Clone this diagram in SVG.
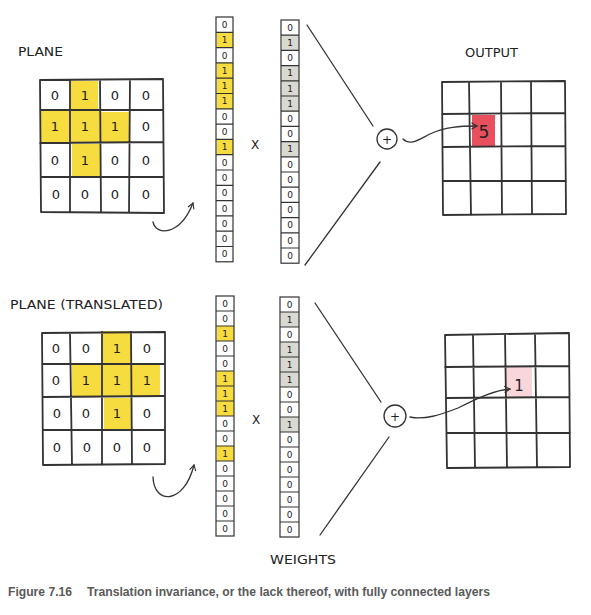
<svg xmlns="http://www.w3.org/2000/svg" width="591" height="615" viewBox="0 0 591 615">
<defs>
<style>
.bg{fill:#ffffff}
.g{stroke:#333;stroke-width:1.8;fill:none;stroke-linecap:round}
.c{stroke:#333;stroke-width:1.2;fill:none}
.ln{stroke:#333;stroke-width:1.3;fill:none;stroke-linecap:round}
.y{fill:#f7dc3f}
.gr{fill:#d9d9d2}
.d{font-family:"DejaVu Sans",sans-serif;font-size:13px;fill:#222;text-anchor:middle}
.s{font-family:"DejaVu Sans",sans-serif;font-size:9px;fill:#222;text-anchor:middle}
.lb{font-family:"DejaVu Sans",sans-serif;font-size:12px;fill:#222}
.cap{font-family:"Liberation Sans",Arial,sans-serif;font-size:12px;font-weight:bold;fill:#5a5a5a}
</style>
<marker id="ah" viewBox="0 0 10 10" refX="8" refY="5" markerWidth="8" markerHeight="8" orient="auto" markerUnits="userSpaceOnUse">
<path d="M1,1 L8,5 L1,9" fill="none" stroke="#333" stroke-width="1.4"/>
</marker>
</defs>
<rect class="bg" width="591" height="615"/>

<!-- TOP ROW -->
<g id="plane-top">
<text class="lb" x="18" y="56" textLength="45" lengthAdjust="spacingAndGlyphs">PLANE</text>
<rect class="y" x="70" y="81" width="28" height="29"/>
<rect class="y" x="41" y="111" width="29" height="32"/>
<rect class="y" x="71" y="111" width="29" height="32"/>
<rect class="y" x="100" y="112" width="30" height="30"/>
<rect class="y" x="72" y="144" width="28" height="34"/>
<path class="g" d="M40,80 L163,79 M40,110 L163,110 M40,143 L163,142 M41,177 L163,177 M41,212 L164,213 M40,80 L41,212 M70,80 L70,212 M100,80 L101,212 M130,80 L129,212 M163,79 L164,213"/>
<text class="d" x="55" y="100">0</text><text class="d" x="85" y="100">1</text><text class="d" x="115" y="100">0</text><text class="d" x="146" y="100">0</text>
<text class="d" x="55" y="131">1</text><text class="d" x="85" y="131">1</text><text class="d" x="115" y="131">1</text><text class="d" x="146" y="131">0</text>
<text class="d" x="55" y="165">0</text><text class="d" x="85" y="165">1</text><text class="d" x="115" y="165">0</text><text class="d" x="146" y="165">0</text>
<text class="d" x="56" y="199">0</text><text class="d" x="85" y="199">0</text><text class="d" x="115" y="199">0</text><text class="d" x="146" y="199">0</text>
</g>

<g id="input-top" transform="translate(216,17)">
<rect class="y" x="1" y="15.3" width="16" height="15.3"/>
<rect class="y" x="1" y="45.9" width="16" height="45.9"/>
<rect class="y" x="1" y="122.4" width="16" height="15.3"/>
<rect class="c" x="0" y="0" width="17" height="244.8"/>
<path class="c" d="M0,15.3H17M0,30.6H17M0,45.9H17M0,61.2H17M0,76.5H17M0,91.8H17M0,107.1H17M0,122.4H17M0,137.7H17M0,153H17M0,168.3H17M0,183.6H17M0,198.9H17M0,214.2H17M0,229.5H17"/>
<text class="s" x="8.5" y="10.9">0</text><text class="s" x="8.5" y="26.2">1</text><text class="s" x="8.5" y="41.5">0</text><text class="s" x="8.5" y="56.8">1</text>
<text class="s" x="8.5" y="72.1">1</text><text class="s" x="8.5" y="87.4">1</text><text class="s" x="8.5" y="102.7">0</text><text class="s" x="8.5" y="118">0</text>
<text class="s" x="8.5" y="133.3">1</text><text class="s" x="8.5" y="148.6">0</text><text class="s" x="8.5" y="163.9">0</text><text class="s" x="8.5" y="179.2">0</text>
<text class="s" x="8.5" y="194.5">0</text><text class="s" x="8.5" y="209.8">0</text><text class="s" x="8.5" y="225.1">0</text><text class="s" x="8.5" y="240.4">0</text>
</g>

<text class="lb" x="255" y="149" text-anchor="middle">X</text>

<g id="weights-top" transform="translate(281,20)">
<rect class="gr" x="1" y="15.2" width="17" height="15.2"/>
<rect class="gr" x="1" y="45.6" width="17" height="45.6"/>
<rect class="gr" x="1" y="121.6" width="17" height="15.2"/>
<rect class="c" x="0" y="0" width="18" height="243.2"/>
<path class="c" d="M0,15.2H18M0,30.4H18M0,45.6H18M0,60.8H18M0,76H18M0,91.2H18M0,106.4H18M0,121.6H18M0,136.8H18M0,152H18M0,167.2H18M0,182.4H18M0,197.6H18M0,212.8H18M0,228H18"/>
<text class="s" x="9" y="10.8">0</text><text class="s" x="9" y="26">1</text><text class="s" x="9" y="41.2">0</text><text class="s" x="9" y="56.4">1</text>
<text class="s" x="9" y="71.6">1</text><text class="s" x="9" y="86.8">1</text><text class="s" x="9" y="102">0</text><text class="s" x="9" y="117.2">0</text>
<text class="s" x="9" y="132.4">1</text><text class="s" x="9" y="147.6">0</text><text class="s" x="9" y="162.8">0</text><text class="s" x="9" y="178">0</text>
<text class="s" x="9" y="193.2">0</text><text class="s" x="9" y="208.4">0</text><text class="s" x="9" y="223.6">0</text><text class="s" x="9" y="238.8">0</text>
</g>

<g id="sum-top">
<circle class="ln" cx="387" cy="139" r="10"/>
<text class="lb" x="387" y="143.5" text-anchor="middle">+</text>
</g>

<g id="output-top">
<text class="lb" x="465" y="57" textLength="53" lengthAdjust="spacingAndGlyphs">OUTPUT</text>
<rect x="472" y="115" width="23" height="32" fill="#e8505d"/>
<path class="g" d="M442,82 L565,81 M442,114 L565,113 M443,147 L565,146 M444,181 L566,181 M443,215 L566,214 M442,82 L443,215 M469,82 L471,215 M501,82 L502,214 M531,82 L532,214 M565,81 L566,214"/>
<text x="484" y="138" font-family="DejaVu Sans,sans-serif" font-size="17" fill="#222" text-anchor="middle">5</text>
</g>

<!-- BOTTOM ROW -->
<g id="plane-bottom">
<text class="lb" x="10" y="309" textLength="153" lengthAdjust="spacingAndGlyphs">PLANE (TRANSLATED)</text>
<rect class="y" x="103" y="331" width="28" height="33"/>
<rect class="y" x="72" y="365" width="30" height="32"/>
<rect class="y" x="102" y="365" width="29" height="32"/>
<rect class="y" x="132" y="364" width="28" height="33"/>
<rect class="y" x="104" y="398" width="27" height="32"/>
<path class="g" d="M42,333 L165,332 M42,364 L165,364 M43,397 L164,396 M43,430 L165,430 M43,465 L165,464 M42,333 L43,465 M70,333 L72,465 M102,332 L102,465 M131,332 L132,464 M165,332 L165,464"/>
<text class="d" x="56" y="353">0</text><text class="d" x="86" y="353">0</text><text class="d" x="117" y="353">1</text><text class="d" x="147" y="353">0</text>
<text class="d" x="56" y="385">0</text><text class="d" x="86" y="385">1</text><text class="d" x="117" y="385">1</text><text class="d" x="147" y="385">1</text>
<text class="d" x="57" y="418">0</text><text class="d" x="86" y="418">0</text><text class="d" x="117" y="418">1</text><text class="d" x="147" y="418">0</text>
<text class="d" x="57" y="452">0</text><text class="d" x="87" y="452">0</text><text class="d" x="117" y="452">0</text><text class="d" x="147" y="452">0</text>
</g>

<g id="input-bottom" transform="translate(216,296)">
<rect class="y" x="1" y="30" width="17" height="15"/>
<rect class="y" x="1" y="75" width="17" height="45"/>
<rect class="y" x="1" y="150" width="17" height="15"/>
<rect class="c" x="0" y="0" width="18" height="240"/>
<path class="c" d="M0,15H18M0,30H18M0,45H18M0,60H18M0,75H18M0,90H18M0,105H18M0,120H18M0,135H18M0,150H18M0,165H18M0,180H18M0,195H18M0,210H18M0,225H18"/>
<text class="s" x="9" y="10.6">0</text><text class="s" x="9" y="25.6">0</text><text class="s" x="9" y="40.6">1</text><text class="s" x="9" y="55.6">0</text>
<text class="s" x="9" y="70.6">0</text><text class="s" x="9" y="85.6">1</text><text class="s" x="9" y="100.6">1</text><text class="s" x="9" y="115.6">1</text>
<text class="s" x="9" y="130.6">0</text><text class="s" x="9" y="145.6">0</text><text class="s" x="9" y="160.6">1</text><text class="s" x="9" y="175.6">0</text>
<text class="s" x="9" y="190.6">0</text><text class="s" x="9" y="205.6">0</text><text class="s" x="9" y="220.6">0</text><text class="s" x="9" y="235.6">0</text>
</g>

<text class="lb" x="256" y="424" text-anchor="middle">X</text>

<g id="weights-bottom" transform="translate(280,297)">
<rect class="gr" x="1" y="15" width="18" height="15"/>
<rect class="gr" x="1" y="45" width="18" height="45"/>
<rect class="gr" x="1" y="120" width="18" height="15"/>
<rect class="c" x="0" y="0" width="19" height="240"/>
<path class="c" d="M0,15H19M0,30H19M0,45H19M0,60H19M0,75H19M0,90H19M0,105H19M0,120H19M0,135H19M0,150H19M0,165H19M0,180H19M0,195H19M0,210H19M0,225H19"/>
<text class="s" x="9.5" y="10.6">0</text><text class="s" x="9.5" y="25.6">1</text><text class="s" x="9.5" y="40.6">0</text><text class="s" x="9.5" y="55.6">1</text>
<text class="s" x="9.5" y="70.6">1</text><text class="s" x="9.5" y="85.6">1</text><text class="s" x="9.5" y="100.6">0</text><text class="s" x="9.5" y="115.6">0</text>
<text class="s" x="9.5" y="130.6">1</text><text class="s" x="9.5" y="145.6">0</text><text class="s" x="9.5" y="160.6">0</text><text class="s" x="9.5" y="175.6">0</text>
<text class="s" x="9.5" y="190.6">0</text><text class="s" x="9.5" y="205.6">0</text><text class="s" x="9.5" y="220.6">0</text><text class="s" x="9.5" y="235.6">0</text>
</g>

<g id="sum-bottom">
<circle class="ln" cx="395" cy="416" r="11"/>
<text class="lb" x="395" y="420.5" text-anchor="middle">+</text>
</g>

<g id="output-bottom">
<rect x="505" y="367" width="27" height="31" fill="#f9d5dc"/>
<path class="g" d="M445,335 L569,333 M445,367 L569,366 M446,398 L569,397 M447,433 L570,433 M447,468 L570,467 M445,335 L447,468 M473,335 L475,467 M505,334 L507,467 M535,334 L537,467 M569,333 L570,467"/>
<text x="519" y="391" font-family="DejaVu Sans,sans-serif" font-size="15" fill="#222" text-anchor="middle">1</text>
</g>

<text id="weights-label" class="lb" x="270" y="564" textLength="66" lengthAdjust="spacingAndGlyphs">WEIGHTS</text>

<g id="connectors">
<path class="ln" d="M153,222 C156,236 180,236 193,203" marker-end="url(#ah)"/>
<path class="ln" d="M153,477 C154,505 184,505 194,465" marker-end="url(#ah)"/>
<path class="ln" d="M307,25 L373,126"/>
<path class="ln" d="M380,162 L305,265"/>
<path class="ln" d="M403,139 C410,146 418,140 430,134 C445,127 460,126 477,126" marker-end="url(#ah)"/>
<path class="ln" d="M315,303 L381,402"/>
<path class="ln" d="M389,437 L320,535"/>
<path class="ln" d="M410,417 C425,420 440,415 458,408 C478,398 495,390 510,389" marker-end="url(#ah)"/>
</g>

<text class="cap" x="8" y="596" textLength="64" lengthAdjust="spacingAndGlyphs">Figure 7.16</text>
<text class="cap" x="87" y="596" textLength="403" lengthAdjust="spacingAndGlyphs">Translation invariance, or the lack thereof, with fully connected layers</text>
</svg>
